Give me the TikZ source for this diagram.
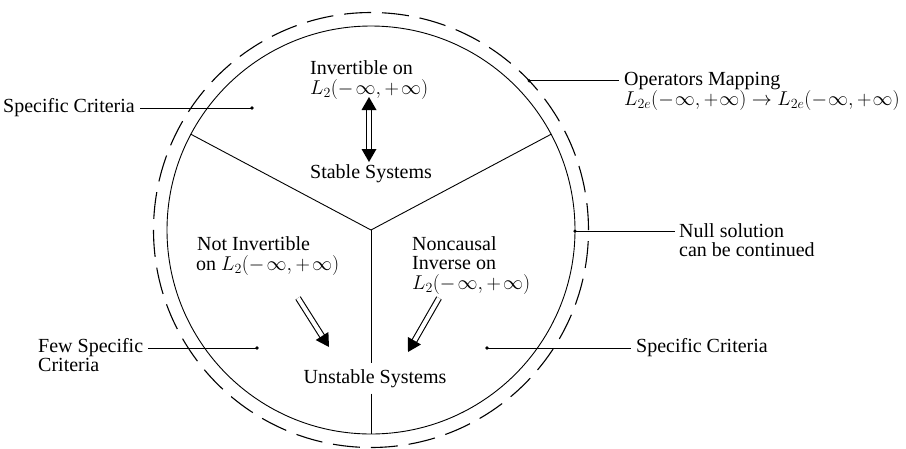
\RequirePackage{fix-cm}
\documentclass[tikz,border=0pt]{standalone}
\usepackage{fontspec}
\setmainfont{Liberation Serif}
\usetikzlibrary{calc}
\newcommand\ahead[2]{\fill ($(#2)!13pt!(#1)!7.5pt!90:(#1)$) -- (#2) -- ($(#2)!13pt!(#1)!7.5pt!-90:(#1)$) -- cycle;}
\newcommand\mylines[1]{\begin{tabular}[t]{@{}l@{}}#1\end{tabular}}
\newcommand\Ltwo{L_2(-\mkern2mu\infty, +\mkern2mu\infty)}
\newcommand\Ltwoe{L_{2e}(-\mkern1mu\infty, +\mkern1mu\infty)}
\begin{document}
\begin{tikzpicture}[x=1pt,y=-1pt,
  txt/.style={inner sep=0pt, font=\fontsize{20}{19}\selectfont},
  lbl/.style={txt, anchor=base west},
  dashcirc/.style={line width=1.1pt, dash pattern=on 27pt off 10.96pt},
  solidline/.style={line width=0.9pt},
  leader/.style={line width=0.8pt},
  dotnode/.style={circle, fill, inner sep=0pt, minimum size=3.6pt},
  shaft/.style={double, double distance=4pt, line width=1.1pt}]
\useasboundingbox (0,0) rectangle (906,448);
\coordinate (ctr) at (371,230);
\draw[dashcirc] (ctr) circle[radius=217.5pt];
\draw[solidline] (ctr) circle[radius=204pt];
\coordinate (ul) at ($(ctr)+(152:204pt)$);
\coordinate (ur) at ($(ctr)+(28:204pt)$);
\coordinate (bt) at ($(ctr)+(-90:204pt)$);
\draw[solidline] (ctr) -- (ul);
\draw[solidline] (ctr) -- (ur);
\node[txt, anchor=base, inner ysep=6pt] (uns) at (375,383) {Unstable Systems};
\draw[solidline] (ctr) -- (ctr |- uns.north);
\draw[solidline] (ctr |- uns.south) -- (bt);
% inner texts
\node[lbl, font=\fontsize{20}{20}\selectfont] (inv) at (310,74) {\mylines{Invertible on\\$\Ltwo$}};
\node[txt, anchor=base] (stab) at (371,178) {Stable Systems};
\node[lbl] (ni) at (196,250) {\mylines{\hspace{1pt}Not Invertible\\on $\Ltwo$}};
\node[lbl] (nc) at (412,250) {\mylines{Noncausal\\Inverse on\\$\Ltwo$}};
% arrows
\coordinate (va) at (369,97);
\coordinate (vb) at (369,162);
\draw[shaft] ($(va)!11pt!(vb)$) -- ($(vb)!11pt!(va)$);
\ahead{vb}{va}
\ahead{va}{vb}
\coordinate (la) at (298,298);
\coordinate (lb) at (329,347);
\draw[shaft] (la) -- ($(lb)!11pt!(la)$);
\ahead{la}{lb}
\coordinate (ra) at (439,298);
\coordinate (rb) at (408,352);
\draw[shaft] (ra) -- ($(rb)!11pt!(ra)$);
\ahead{ra}{rb}
% outer labels
\node[lbl] (sc) at (3,112) {Specific Criteria};
\node[dotnode] (dsc) at (252,108) {};
\draw[leader, shorten >=5pt] (dsc.center) -- (dsc.center -| sc.east);
\node[lbl] (op) at (624,85) {\mylines{Operators Mapping\\$\Ltwoe \to \Ltwoe$}};
\node[dotnode] (dop) at ($(ctr)+(43.3:217.5pt)$) {};
\draw[leader, shorten >=5pt] (dop.center) -- (dop.center -| op.west);
\node[lbl] (nu) at (679,237) {\mylines{Null solution\\can be continued}};
\node[dotnode] (dnu) at ($(ctr)+(-0.3:204pt)$) {};
\draw[leader, shorten >=4pt] (dnu.center) -- (dnu.center -| nu.west);
\node[lbl] (sc2) at (636,352) {Specific Criteria};
\node[dotnode] (dsc2) at (487,348) {};
\draw[leader, shorten >=5pt] (dsc2.center) -- (dsc2.center -| sc2.west);
\node[lbl] (fs) at (38,352) {\mylines{Few Specific\\Criteria}};
\node[dotnode] (dfs) at (257,348) {};
\draw[leader, shorten >=5pt] (dfs.center) -- (dfs.center -| fs.east);
\end{tikzpicture}
\end{document}
